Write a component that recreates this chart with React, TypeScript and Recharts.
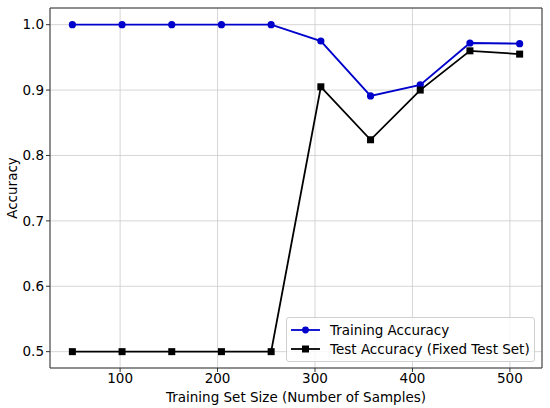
import React from 'react';
import {
  LineChart,
  Line,
  XAxis,
  YAxis,
  CartesianGrid,
  ReferenceArea,
} from 'recharts';

// Training set sizes (x) and accuracies
const sizes = [51, 102, 153, 204, 255, 306, 357, 408, 459, 510];
const trainAcc = [1.0, 1.0, 1.0, 1.0, 1.0, 0.975, 0.891, 0.908, 0.972, 0.971];
const testAcc = [0.5, 0.5, 0.5, 0.5, 0.5, 0.905, 0.824, 0.9, 0.96, 0.955];

const xTicks = [100, 200, 300, 400, 500];
const yTicks = [0.5, 0.6, 0.7, 0.8, 0.9, 1.0];

const X_DOMAIN: [number, number] = [28.05, 532.95];
const Y_DOMAIN: [number, number] = [0.475, 1.0255];

const FONT = '"DejaVu Sans", sans-serif';
const FS = 13.5;
const BLUE = '#0000cc';
const BLACK = '#000000';

const data = sizes.map((size, i) => ({
  size,
  train: trainAcc[i],
  test: testAcc[i],
}));

const SquareDot = (props: any) => {
  const { cx, cy } = props;
  if (cx == null || cy == null) return null;
  return <rect x={cx - 3.5} y={cy - 3.5} width={7} height={7} fill={BLACK} />;
};

const CircleDot = (props: any) => {
  const { cx, cy } = props;
  if (cx == null || cy == null) return null;
  return <circle cx={cx} cy={cy} r={3.6} fill={BLUE} />;
};

const legendRows = [
  { name: 'Training Accuracy', color: BLUE, shape: 'circle' },
  { name: 'Test Accuracy (Fixed Test Set)', color: BLACK, shape: 'square' },
];

const LegendBox = () => (
  <div
    style={{
      position: 'absolute',
      left: 286,
      top: 317,
      width: 249,
      height: 45,
      boxSizing: 'border-box',
      background: 'rgba(255,255,255,0.8)',
      border: '1px solid #d0d0d0',
      borderRadius: 3,
      padding: '2px 0 0 4px',
      fontFamily: FONT,
      fontSize: FS,
      color: '#000',
    }}
  >
    {legendRows.map((r) => (
      <div key={r.name} style={{ display: 'flex', alignItems: 'center', height: 19.5 }}>
        <svg width={30} height={12} style={{ marginRight: 9, flexShrink: 0 }}>
          <line x1={0} y1={6} x2={29} y2={6} stroke={r.color} strokeWidth={1.8} />
          {r.shape === 'circle' ? (
            <circle cx={14.5} cy={6} r={3.4} fill={r.color} />
          ) : (
            <rect x={11} y={2.5} width={7} height={7} fill={r.color} />
          )}
        </svg>
        <span style={{ whiteSpace: 'nowrap' }}>{r.name}</span>
      </div>
    ))}
  </div>
);

const YLabel = (props: any) => {
  const { viewBox } = props;
  const cy = viewBox.y + viewBox.height / 2;
  return (
    <text
      x={12}
      y={cy}
      transform={`rotate(-90, 12, ${cy})`}
      textAnchor="middle"
      dominantBaseline="central"
      fontFamily={FONT}
      fontSize={FS}
      fill="#000"
    >
      Accuracy
    </text>
  );
};

const XLabel = (props: any) => {
  const { viewBox } = props;
  const cx = viewBox.x + viewBox.width / 2;
  return (
    <text
      x={cx}
      y={397}
      textAnchor="middle"
      dominantBaseline="central"
      fontFamily={FONT}
      fontSize={FS}
      fill="#000"
    >
      Training Set Size (Number of Samples)
    </text>
  );
};

const tickStyle = { fontFamily: FONT, fontSize: FS, fill: '#000' };

export default function App() {
  return (
    <div style={{ position: 'absolute', left: 0, top: 0, width: 550, height: 408, background: '#fff' }}>
      <LineChart
        width={550}
        height={408}
        data={data}
        margin={{ top: 8, right: 8, left: 0, bottom: 0 }}
      >
        <CartesianGrid stroke="#cccccc" strokeWidth={0.8} />
        <XAxis
          dataKey="size"
          type="number"
          domain={X_DOMAIN}
          ticks={xTicks}
          allowDataOverflow
          height={40}
          tick={tickStyle}
          tickSize={4}
          tickMargin={1}
          tickLine={{ stroke: '#333' }}
          axisLine={false}
          label={<XLabel />}
        />
        <YAxis
          type="number"
          domain={Y_DOMAIN}
          ticks={yTicks}
          allowDataOverflow
          width={50}
          tick={tickStyle}
          tickSize={4}
          tickMargin={2}
          tickLine={{ stroke: '#333' }}
          axisLine={false}
          tickFormatter={(v: number) => v.toFixed(1)}
          label={<YLabel />}
        />
        <ReferenceArea
          x1={X_DOMAIN[0]}
          x2={X_DOMAIN[1]}
          y1={Y_DOMAIN[0]}
          y2={Y_DOMAIN[1]}
          fill="none"
          stroke="#333"
          strokeWidth={1}
          ifOverflow="visible"
        />
        <Line
          dataKey="train"
          name="Training Accuracy"
          type="linear"
          stroke={BLUE}
          strokeWidth={1.8}
          dot={<CircleDot />}
          activeDot={false}
          isAnimationActive={false}
        />
        <Line
          dataKey="test"
          name="Test Accuracy (Fixed Test Set)"
          type="linear"
          stroke={BLACK}
          strokeWidth={1.8}
          dot={<SquareDot />}
          activeDot={false}
          isAnimationActive={false}
        />
      </LineChart>
      <LegendBox />
    </div>
  );
}
